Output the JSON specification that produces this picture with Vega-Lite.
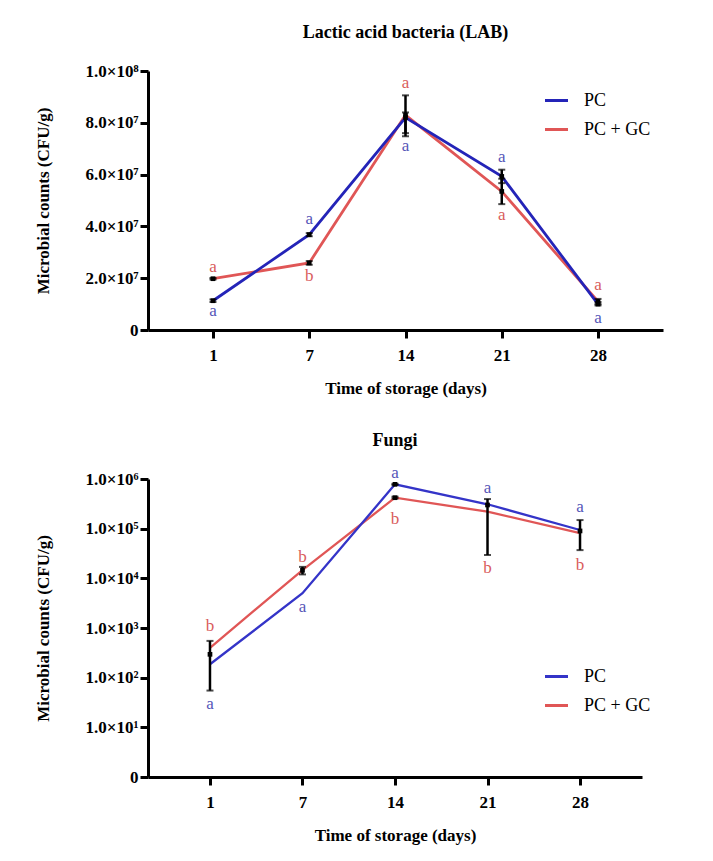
{
  "$schema": "https://vega.github.io/schema/vega-lite/v6.json",
  "background": "white",
  "padding": {"top": 24, "left": 34, "right": 5, "bottom": 5},
  "spacing": 36,
  "config": {
    "font": "Liberation Serif",
    "view": {"stroke": null},
    "axis": {
      "grid": false,
      "domainColor": "black", "domainWidth": 3,
      "tickColor": "black", "tickWidth": 3, "tickSize": 8,
      "labelFont": "Liberation Serif", "labelFontWeight": "bold", "labelFontSize": 17, "labelColor": "black",
      "titleFont": "Liberation Serif", "titleFontWeight": "bold", "titleFontSize": 17, "titleColor": "black"
    },
    "title": {"font": "Liberation Serif", "fontWeight": "bold", "fontSize": 18, "color": "black"},
    "legend": {"labelFont": "Liberation Serif", "labelFontSize": 18, "labelColor": "black"}
  },
  "datasets": {
    "labLines": [
      {"day": 1, "group": "PC + GC", "count": 19800000},
      {"day": 7, "group": "PC + GC", "count": 25900000},
      {"day": 14, "group": "PC + GC", "count": 83000000},
      {"day": 21, "group": "PC + GC", "count": 53500000},
      {"day": 28, "group": "PC + GC", "count": 11000000},
      {"day": 1, "group": "PC", "count": 11300000},
      {"day": 7, "group": "PC", "count": 36800000},
      {"day": 14, "group": "PC", "count": 82000000},
      {"day": 21, "group": "PC", "count": 59300000},
      {"day": 28, "group": "PC", "count": 10000000}
    ],
    "labErr": [
      {"day": 1, "group": "PC", "lo": 10800000, "hi": 11800000, "mid": 11300000},
      {"day": 1, "group": "PC + GC", "lo": 19500000, "hi": 20100000, "mid": 19800000},
      {"day": 7, "group": "PC", "lo": 36200000, "hi": 37400000, "mid": 36800000},
      {"day": 7, "group": "PC + GC", "lo": 25200000, "hi": 26600000, "mid": 25900000},
      {"day": 14, "group": "PC + GC", "lo": 74800000, "hi": 90600000, "mid": 83000000},
      {"day": 14, "group": "PC", "lo": 76000000, "hi": 84000000, "mid": 82000000},
      {"day": 21, "group": "PC", "lo": 56700000, "hi": 61900000, "mid": 59300000},
      {"day": 21, "group": "PC + GC", "lo": 48600000, "hi": 58400000, "mid": 53500000},
      {"day": 28, "group": "PC", "lo": 9500000, "hi": 10800000, "mid": 10000000},
      {"day": 28, "group": "PC + GC", "lo": 10000000, "hi": 12000000, "mid": 11000000}
    ],
    "labLetters": [
      {"day": 1, "group": "PC + GC", "letter": "a", "ly": 24300000},
      {"day": 1, "group": "PC", "letter": "a", "ly": 7300000},
      {"day": 7, "group": "PC", "letter": "a", "ly": 43000000},
      {"day": 7, "group": "PC + GC", "letter": "b", "ly": 20700000},
      {"day": 14, "group": "PC + GC", "letter": "a", "ly": 95400000},
      {"day": 14, "group": "PC", "letter": "a", "ly": 71200000},
      {"day": 21, "group": "PC", "letter": "a", "ly": 66700000},
      {"day": 21, "group": "PC + GC", "letter": "a", "ly": 44500000},
      {"day": 28, "group": "PC + GC", "letter": "a", "ly": 17500000},
      {"day": 28, "group": "PC", "letter": "a", "ly": 4600000}
    ],
    "fungiLines": [
      {"day": 1, "group": "PC + GC", "count": 400},
      {"day": 7, "group": "PC + GC", "count": 14700},
      {"day": 14, "group": "PC + GC", "count": 420000},
      {"day": 21, "group": "PC + GC", "count": 220000},
      {"day": 28, "group": "PC + GC", "count": 81000},
      {"day": 1, "group": "PC", "count": 186},
      {"day": 7, "group": "PC", "count": 5000},
      {"day": 14, "group": "PC", "count": 780000},
      {"day": 21, "group": "PC", "count": 310000},
      {"day": 28, "group": "PC", "count": 94000}
    ],
    "fungiErr": [
      {"day": 1, "group": "PC + GC", "lo": 55, "hi": 550, "mid": 295},
      {"day": 7, "group": "PC + GC", "lo": 12000, "hi": 17000, "mid": 14500},
      {"day": 14, "group": "PC", "lo": 760000, "hi": 800000, "mid": 780000},
      {"day": 14, "group": "PC + GC", "lo": 405000, "hi": 440000, "mid": 420000},
      {"day": 21, "group": "PC + GC", "lo": 29500, "hi": 395000, "mid": 300000},
      {"day": 28, "group": "PC + GC", "lo": 37000, "hi": 149000, "mid": 90000}
    ],
    "fungiLetters": [
      {"day": 1, "group": "PC + GC", "letter": "b", "ly": 1100},
      {"day": 1, "group": "PC", "letter": "a", "ly": 30},
      {"day": 7, "group": "PC + GC", "letter": "b", "ly": 27000},
      {"day": 7, "group": "PC", "letter": "a", "ly": 2700},
      {"day": 14, "group": "PC", "letter": "a", "ly": 1300000},
      {"day": 14, "group": "PC + GC", "letter": "b", "ly": 160000},
      {"day": 21, "group": "PC", "letter": "a", "ly": 670000},
      {"day": 21, "group": "PC + GC", "letter": "b", "ly": 16400},
      {"day": 28, "group": "PC", "letter": "a", "ly": 270000},
      {"day": 28, "group": "PC + GC", "letter": "b", "ly": 18500}
    ]
  },
  "resolve": {
    "scale": {"x": "independent", "y": "independent", "color": "independent", "fill": "independent"},
    "legend": {"color": "independent"}
  },
  "vconcat": [
    {
      "title": {"text": "Lactic acid bacteria (LAB)", "offset": 20},
      "width": 515,
      "height": 259,
      "encoding": {
        "x": {
          "field": "day", "type": "ordinal",
          "scale": {"type": "point", "domain": [1, 7, 14, 21, 28], "padding": 0.675},
          "axis": {"title": "Time of storage (days)", "labelAngle": 0, "labelPadding": 9, "titlePadding": 17}
        }
      },
      "layer": [
        {
          "data": {"name": "labLines"},
          "mark": {"type": "line", "strokeWidth": 2.8},
          "encoding": {
            "y": {
              "field": "count", "type": "quantitative",
              "scale": {"domain": [0, 100000000]},
              "axis": {
                "title": "Microbial counts (CFU/g)",
                "values": [0, 20000000, 40000000, 60000000, 80000000, 100000000],
                "labelExpr": "datum.value==0?'0':datum.value==100000000?'1.0×10⁸':format(datum.value/10000000,'.1f')+'×10⁷'",
                "labelPadding": 2, "titlePadding": 32
              }
            },
            "color": {
              "field": "group", "type": "nominal",
              "scale": {"domain": ["PC", "PC + GC"], "range": ["#2424b8", "#e05656"]},
              "legend": {
                "orient": "none", "legendX": 395, "legendY": 16, "title": null,
                "symbolType": "stroke", "symbolSize": 530, "symbolStrokeWidth": 3,
                "labelOffset": 14, "rowPadding": 6
              }
            }
          }
        },
        {
          "data": {"name": "labErr"},
          "mark": {"type": "rule", "color": "black", "strokeWidth": 2.5},
          "encoding": {"y": {"field": "lo", "type": "quantitative"}, "y2": {"field": "hi"}}
        },
        {
          "data": {"name": "labErr"},
          "mark": {"type": "tick", "color": "black", "thickness": 2, "size": 7, "orient": "horizontal"},
          "encoding": {"y": {"field": "lo", "type": "quantitative"}}
        },
        {
          "data": {"name": "labErr"},
          "mark": {"type": "tick", "color": "black", "thickness": 2, "size": 7, "orient": "horizontal"},
          "encoding": {"y": {"field": "hi", "type": "quantitative"}}
        },
        {
          "data": {"name": "labErr"},
          "mark": {"type": "square", "color": "black", "filled": true, "size": 22, "opacity": 1},
          "encoding": {"y": {"field": "mid", "type": "quantitative"}}
        },
        {
          "data": {"name": "labLetters"},
          "mark": {"type": "text", "fontSize": 17, "font": "Liberation Serif", "baseline": "middle"},
          "encoding": {
            "y": {"field": "ly", "type": "quantitative"},
            "text": {"field": "letter"},
            "fill": {
              "field": "group", "type": "nominal",
              "scale": {"domain": ["PC", "PC + GC"], "range": ["#5656b8", "#d95c5c"]},
              "legend": null
            }
          }
        }
      ]
    },
    {
      "title": {"text": "Fungi", "offset": 14},
      "width": 494,
      "height": 298,
      "encoding": {
        "x": {
          "field": "day", "type": "ordinal",
          "scale": {"type": "point", "domain": [1, 7, 14, 21, 28], "padding": 0.67},
          "axis": {"title": "Time of storage (days)", "labelAngle": 0, "labelPadding": 9, "titlePadding": 17}
        }
      },
      "layer": [
        {
          "data": {"name": "fungiLines"},
          "mark": {"type": "line", "strokeWidth": 2.3},
          "encoding": {
            "y": {
              "field": "count", "type": "quantitative",
              "scale": {"type": "log", "domain": [1, 1000000]},
              "axis": {
                "title": "Microbial counts (CFU/g)",
                "values": [1, 10, 100, 1000, 10000, 100000, 1000000],
                "labelExpr": "datum.value==1?'0':datum.value==10?'1.0×10¹':datum.value==100?'1.0×10²':datum.value==1000?'1.0×10³':datum.value==10000?'1.0×10⁴':datum.value==100000?'1.0×10⁵':'1.0×10⁶'",
                "labelPadding": 2, "titlePadding": 32
              }
            },
            "color": {
              "field": "group", "type": "nominal",
              "scale": {"domain": ["PC", "PC + GC"], "range": ["#3434c8", "#e05656"]},
              "legend": {
                "orient": "none", "legendX": 395, "legendY": 184, "title": null,
                "symbolType": "stroke", "symbolSize": 530, "symbolStrokeWidth": 3,
                "labelOffset": 14, "rowPadding": 6
              }
            }
          }
        },
        {
          "data": {"name": "fungiErr"},
          "mark": {"type": "rule", "color": "black", "strokeWidth": 2.5},
          "encoding": {"y": {"field": "lo", "type": "quantitative"}, "y2": {"field": "hi"}}
        },
        {
          "data": {"name": "fungiErr"},
          "mark": {"type": "tick", "color": "black", "thickness": 2, "size": 7, "orient": "horizontal"},
          "encoding": {"y": {"field": "lo", "type": "quantitative"}}
        },
        {
          "data": {"name": "fungiErr"},
          "mark": {"type": "tick", "color": "black", "thickness": 2, "size": 7, "orient": "horizontal"},
          "encoding": {"y": {"field": "hi", "type": "quantitative"}}
        },
        {
          "data": {"name": "fungiErr"},
          "mark": {"type": "square", "color": "black", "filled": true, "size": 22, "opacity": 1},
          "encoding": {"y": {"field": "mid", "type": "quantitative"}}
        },
        {
          "data": {"name": "fungiLetters"},
          "mark": {"type": "text", "fontSize": 17, "font": "Liberation Serif", "baseline": "middle"},
          "encoding": {
            "y": {"field": "ly", "type": "quantitative"},
            "text": {"field": "letter"},
            "fill": {
              "field": "group", "type": "nominal",
              "scale": {"domain": ["PC", "PC + GC"], "range": ["#5656b8", "#d95c5c"]},
              "legend": null
            }
          }
        }
      ]
    }
  ]
}
